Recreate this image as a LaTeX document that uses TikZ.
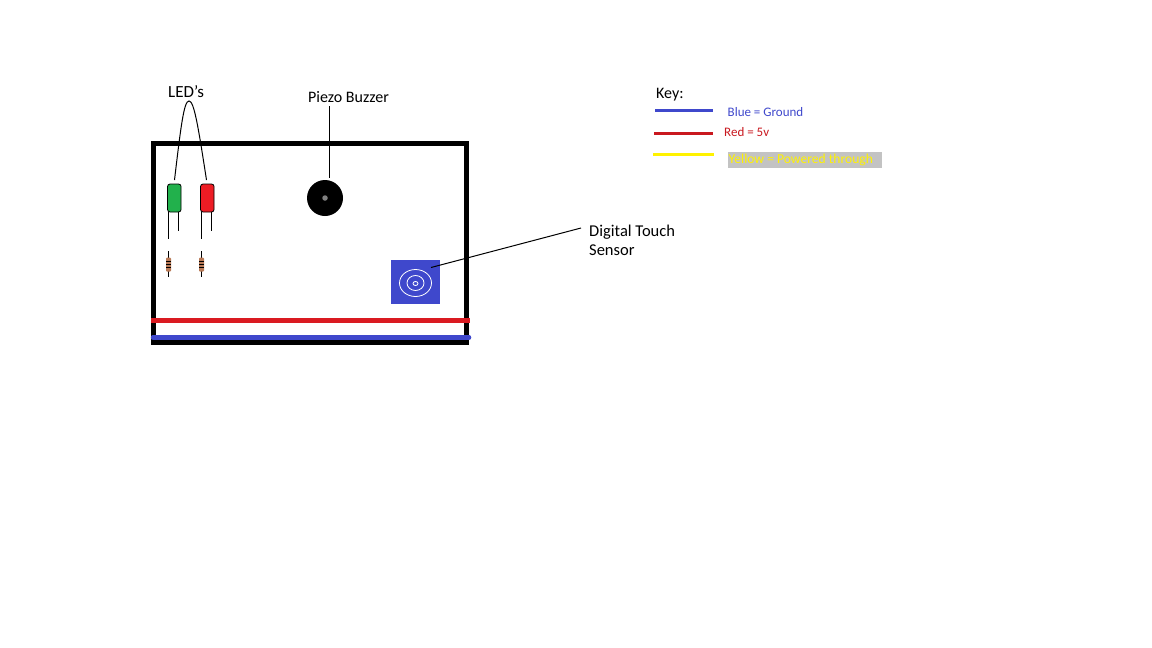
\documentclass[tikz,border=0pt]{standalone}
\usepackage{fontspec}
\setmainfont{Carlito}
\definecolor{bluew}{RGB}{63,72,204}
\definecolor{redw}{RGB}{237,28,36}
\definecolor{greenw}{RGB}{34,177,76}
\definecolor{yelw}{RGB}{255,242,0}
\definecolor{brownr}{RGB}{185,122,87}
\definecolor{greyk}{RGB}{195,195,195}
\tikzset{
  lbl/.style={inner sep=0pt,anchor=west,font=\fontsize{16}{19}\selectfont,text=black},
  keytxt/.style={inner sep=0pt,anchor=west,font=\fontsize{13}{15}\selectfont},
  wire/.style={line width=1pt,black},
  led/.style={draw=black,line width=.8pt,rounded corners=2.5pt},
  resbody/.style={fill=brownr,draw=none,rounded corners=1pt},
  keyline/.style={line width=3pt},
  ring/.style={draw=white,line width=.8pt}
}
\begin{document}
\begin{tikzpicture}[x=1pt,y=-1pt]
\useasboundingbox[fill=white] (0,0) rectangle (1152,648);
% board
\draw[line width=5pt,black,miter limit=10] (153.5,143.5) rectangle (466.7,342.7);
\draw[line width=4.5pt,redw!92!black] (151,320.3) -- (469.5,320.3);
\draw[line width=4.5pt,bluew,line cap=round] (153,337.5) -- (469,337.5);
% labels
\node[lbl,font=\fontsize{17}{19}\selectfont] (ledlbl) at (168,92) {LED\symbol{39}s};
\node[lbl] (pzlbl) at (308,97.5) {Piezo Buzzer};
\node[lbl,font=\fontsize{16.5}{19}\selectfont,align=left,anchor=north west] (dtlbl) at (589,224.5) {Digital Touch\\Sensor};
\node[lbl] (keylbl) at (656,95) {Key:};
% LEDs
\node[led,fill=greenw,minimum width=13.5pt,minimum height=28pt,inner sep=0pt] (g) at (174.3,198) {};
\node[led,fill=redw,minimum width=13.5pt,minimum height=28pt,inner sep=0pt] (r) at (207.3,198) {};
\coordinate (gt) at (174.5,180);
\coordinate (rt) at (206.5,180);
\coordinate (apex) at (189,101);
\draw[wire] (gt) .. controls (181,125) and (184,101) .. (apex) .. controls (194,101) and (198,125) .. (rt);
% leads
\coordinate (ga1) at (168.5,212); \coordinate (ga2) at (168.5,239);
\coordinate (gb1) at (178.5,212); \coordinate (gb2) at (178.5,231);
\coordinate (ra1) at (201.5,212); \coordinate (ra2) at (201.5,239);
\coordinate (rb1) at (211.5,212); \coordinate (rb2) at (211.5,231);
\draw[wire] (ga1)--(ga2) (gb1)--(gb2) (ra1)--(ra2) (rb1)--(rb2);
% resistors
\foreach \n/\x in {a/168.5,b/201.5}{
  \draw[wire] (\x,251) -- (\x,277);
  \node[resbody,minimum width=5pt,minimum height=14pt,inner sep=0pt] (res\n) at (\x,264.5) {};
  \draw[black,line width=.7pt] (\x-2.5,261.5) -- (\x+2.5,261.5) (\x-2.5,264.5) -- (\x+2.5,264.5) (\x-2.5,267.5) -- (\x+2.5,267.5);
}
% buzzer
\node[circle,fill=black,minimum size=36pt,inner sep=0pt] (bz) at (325,198) {};
\node[circle,fill=gray,minimum size=5.5pt,inner sep=0pt] (bzd) at (325,198) {};
\coordinate (pzt) at (329,106);
\coordinate (pzb) at (329,178);
\draw[wire] (pzt) -- (pzb);
% touch sensor
\node[fill=bluew,minimum width=49pt,minimum height=44pt,inner sep=0pt] (ts) at (415.5,282) {};
\draw[ring] (415.5,283) ellipse [x radius=16pt,y radius=13.5pt];
\draw[ring] (415.5,283) ellipse [x radius=8.5pt,y radius=7.5pt];
\draw[ring] (415.5,283.5) ellipse [x radius=2.5pt,y radius=2pt];
\coordinate (tsa) at (431,267.5);
\coordinate (tsb) at (581,228);
\draw[wire] (tsa) -- (tsb);
% key
\draw[keyline,bluew] (655,110.5) -- (713,110.5);
\draw[keyline,redw!85!black] (654,133) -- (713,133);
\draw[keyline,yelw] (653,154.5) -- (714,154.5);
\node[fill=greyk,minimum width=154pt,minimum height=16pt,inner sep=0pt,anchor=west] (gk) at (728,160) {};
\node[keytxt,text=bluew] (k1) at (727.5,112.5) {Blue = Ground};
\node[keytxt,text=redw!85!black] (k2) at (724,132.5) {Red = 5v};
\node[keytxt,font=\fontsize{13.6}{15}\selectfont,text=yelw] (k3) at (728.5,160) {Yellow = Powered through};
\end{tikzpicture}
\end{document}
